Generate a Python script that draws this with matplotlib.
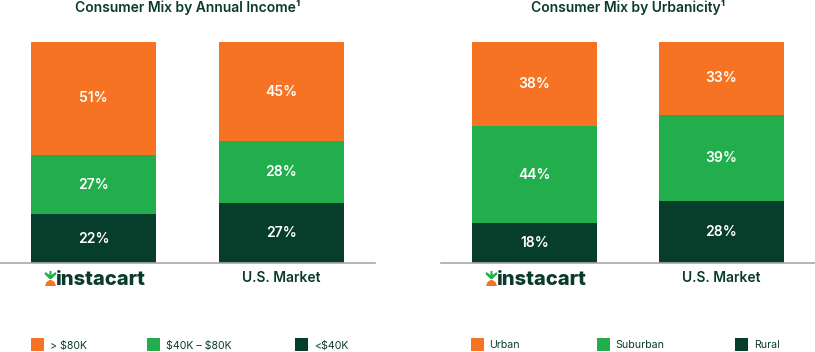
import matplotlib
matplotlib.use("Agg")
import matplotlib.pyplot as plt
from matplotlib.patches import Rectangle, Polygon
from matplotlib.transforms import ScaledTranslation

W, H = 815, 352
plt.rcParams['font.family'] = ['Inter', 'DejaVu Sans']

categories = ['instacart', 'U.S. Market']
income_title = 'Consumer Mix by Annual Income\u00b9'
urban_title = 'Consumer Mix by Urbanicity\u00b9'
income_labels = ['<$40K', '$40K – $80K', '> $80K']
income_low = [22, 27]
income_mid = [27, 28]
income_high = [51, 45]
urban_labels = ['Rural', 'Suburban', 'Urban']
urban_rural = [18, 28]
urban_suburban = [44, 39]
urban_urban = [38, 33]
colors = ['#073D2B', '#22AE4C', '#F57322']
ink = '#0B3B2C'

fig = plt.figure(figsize=(W / 100, H / 100), dpi=100)

def box(x0, x1, ytop, ybot):
    return [x0 / W, 1 - ybot / H, (x1 - x0) / W, (ybot - ytop) / H]

def panel(x0, x1, title, series, labels, swatch_x, text_x):
    ax = fig.add_axes(box(x0, x1, 42, 263))
    bottom = [0, 0]
    for vals, c in zip(series, colors):
        ax.bar(range(2), vals, bottom=bottom, width=0.665, color=c, linewidth=0)
        for i, v in enumerate(vals):
            ax.text(i, bottom[i] + v / 2, f'{v}%', ha='center', va='center',
                    color='white', fontsize=10, fontweight='semibold')
        bottom = [b + v for b, v in zip(bottom, vals)]
    ax.set_xlim(-0.5, 1.5)
    ax.set_ylim(0, 100)
    ax.set_yticks([])
    for s in ['top', 'left', 'right']:
        ax.spines[s].set_visible(False)
    ax.spines['bottom'].set_color('#A8A8A8')
    ax.spines['bottom'].set_linewidth(1.2)
    ax.set_xticks(range(2))
    ax.set_xticklabels(categories)
    ax.tick_params(axis='x', length=0, pad=5.5, colors=ink)
    t = ax.get_xticklabels()
    t[0].set_fontsize(14.5)
    t[0].set_fontweight('heavy')
    t[0].set_transform(t[0].get_transform() + ScaledTranslation(7.5 / 100, 0, fig.dpi_scale_trans))
    t[1].set_fontsize(10)
    t[1].set_fontweight('semibold')
    fig.text((x0 + x1) / 2 / W + 0.5 / W, 1 - 7.5 / H, title, ha='center', va='center',
             color=ink, fontsize=10, fontweight='semibold')
    # carrot logo mark
    cx = x0 + 50.5
    def P(px, py):
        return (px / W, 1 - py / H)
    fig.add_artist(Polygon([P(cx - 1, 271), P(cx + 1, 271), P(cx + 1, 275),
                            P(cx + 5, 272), P(cx + 6, 274), P(cx + 1, 279),
                            P(cx - 1, 279), P(cx - 6, 274), P(cx - 5, 272),
                            P(cx - 1, 275)],
                           closed=True, transform=fig.transFigure,
                           facecolor='#22AE4C', edgecolor='none'))
    fig.add_artist(Polygon([P(cx - 5.5, 286), P(cx - 4, 282), P(cx, 279.5),
                            P(cx + 4, 282), P(cx + 5.5, 286)],
                           closed=True, transform=fig.transFigure,
                           facecolor='#F57322', edgecolor='none'))
    # legend
    for sx, tx, lab, c in zip(swatch_x, text_x, labels, colors):
        fig.add_artist(Rectangle((sx / W, 1 - 351 / H), 13 / W, 13 / H,
                                 transform=fig.transFigure, facecolor=c,
                                 edgecolor='none'))
        fig.text(tx / W, 1 - 345.5 / H, lab, ha='left', va='center',
                 color=ink, fontsize=7.6, parse_math=False)

panel(0, 375, income_title, [income_low, income_mid, income_high],
      income_labels, [295, 147, 31], [314, 166, 50])
panel(441, 815, urban_title, [urban_rural, urban_suburban, urban_urban],
      urban_labels, [735, 597, 471], [754, 615, 489])

fig.savefig('out.png', dpi=100)
